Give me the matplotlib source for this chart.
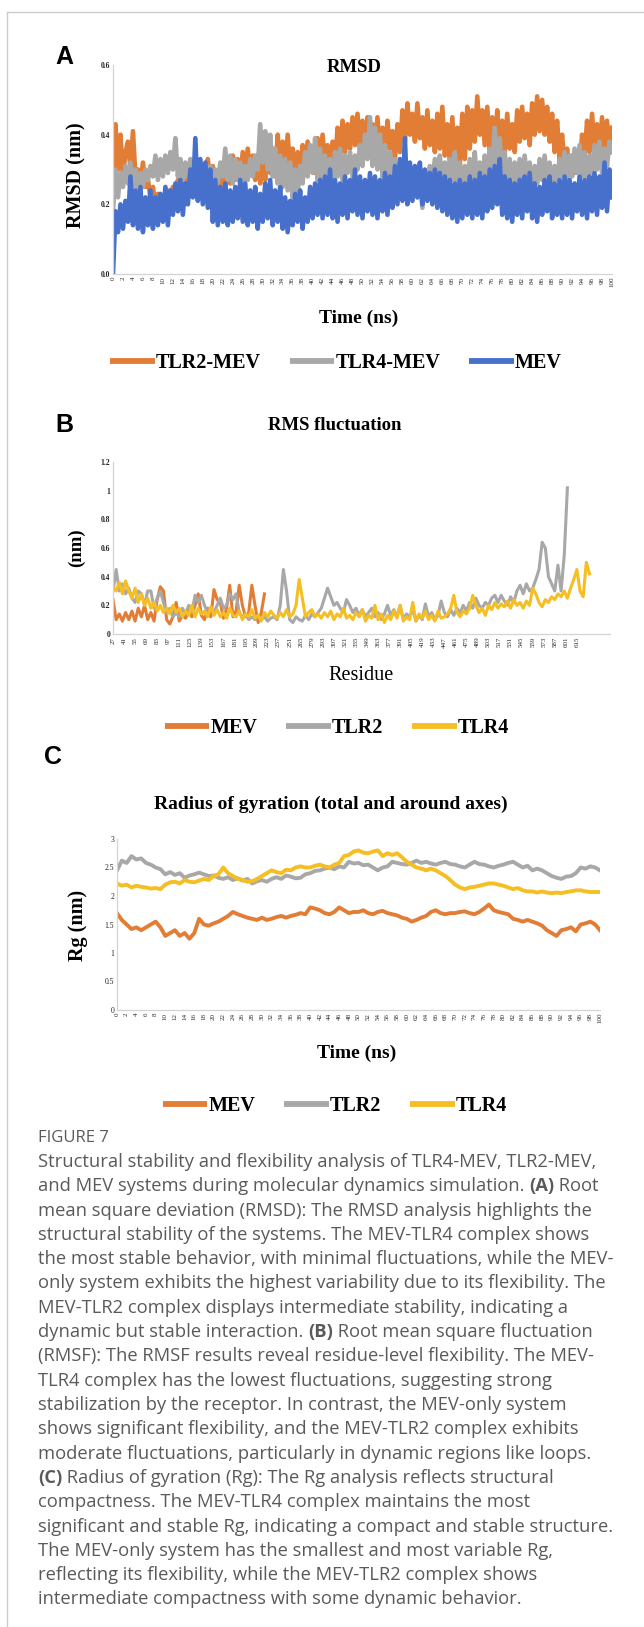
import numpy as np
import matplotlib
matplotlib.use("Agg")
import matplotlib.pyplot as plt
from matplotlib.lines import Line2D
from matplotlib.font_manager import FontProperties

# ---------------- DATA ----------------
# Panel A: RMSD (nm), sampled every 0.5 ns from 0 to 100 ns
rmsd_tlr2_mev = [
    0.24, 0.43, 0.30, 0.40, 0.28, 0.35, 0.38, 0.30, 0.41, 0.28, 0.30, 0.26, 0.32, 0.25, 0.27, 0.22,
    0.25, 0.20, 0.23, 0.19, 0.22, 0.20, 0.24, 0.21, 0.25, 0.22, 0.27, 0.23, 0.28, 0.24, 0.29, 0.25,
    0.30, 0.24, 0.28, 0.23, 0.30, 0.24, 0.33, 0.26, 0.31, 0.25, 0.29, 0.24, 0.30, 0.24, 0.32, 0.26,
    0.34, 0.27, 0.33, 0.27, 0.35, 0.28, 0.36, 0.29, 0.34, 0.27, 0.33, 0.26, 0.35, 0.27, 0.37, 0.29,
    0.36, 0.28, 0.40, 0.30, 0.38, 0.29, 0.40, 0.30, 0.36, 0.28, 0.35, 0.27, 0.37, 0.29, 0.38, 0.30,
    0.36, 0.29, 0.39, 0.31, 0.40, 0.32, 0.37, 0.30, 0.38, 0.31, 0.42, 0.33, 0.44, 0.35, 0.43, 0.36,
    0.45, 0.37, 0.46, 0.36, 0.44, 0.35, 0.45, 0.37, 0.43, 0.36, 0.45, 0.35, 0.42, 0.34, 0.44, 0.36,
    0.41, 0.33, 0.43, 0.35, 0.47, 0.38, 0.49, 0.40, 0.46, 0.38, 0.49, 0.39, 0.45, 0.36, 0.47, 0.37,
    0.44, 0.35, 0.46, 0.36, 0.48, 0.34, 0.43, 0.32, 0.45, 0.30, 0.42, 0.31, 0.46, 0.33, 0.48, 0.36,
    0.47, 0.38, 0.51, 0.40, 0.47, 0.37, 0.48, 0.36, 0.45, 0.35, 0.47, 0.37, 0.44, 0.35, 0.46, 0.36,
    0.43, 0.35, 0.47, 0.38, 0.48, 0.39, 0.46, 0.37, 0.49, 0.40, 0.51, 0.41, 0.50, 0.40, 0.48, 0.38,
    0.46, 0.35, 0.44, 0.33, 0.40, 0.31, 0.36, 0.30, 0.34, 0.29, 0.35, 0.30, 0.40, 0.33, 0.44, 0.35,
    0.46, 0.36, 0.43, 0.35, 0.45, 0.36, 0.44, 0.35, 0.42]
rmsd_tlr4_mev = [
    0.18, 0.30, 0.22, 0.29, 0.25, 0.31, 0.26, 0.32, 0.25, 0.30, 0.24, 0.29, 0.25, 0.30, 0.27, 0.31,
    0.28, 0.34, 0.27, 0.33, 0.28, 0.34, 0.29, 0.35, 0.30, 0.39, 0.28, 0.33, 0.27, 0.32, 0.28, 0.33,
    0.27, 0.31, 0.26, 0.32, 0.25, 0.30, 0.26, 0.31, 0.25, 0.30, 0.26, 0.32, 0.28, 0.36, 0.27, 0.34,
    0.26, 0.33, 0.27, 0.32, 0.25, 0.31, 0.27, 0.33, 0.28, 0.34, 0.30, 0.43, 0.32, 0.41, 0.30, 0.40,
    0.28, 0.36, 0.26, 0.34, 0.25, 0.33, 0.24, 0.32, 0.22, 0.30, 0.23, 0.31, 0.26, 0.35, 0.28, 0.37,
    0.29, 0.39, 0.27, 0.36, 0.26, 0.34, 0.25, 0.33, 0.26, 0.35, 0.28, 0.36, 0.27, 0.34, 0.29, 0.35,
    0.28, 0.34, 0.30, 0.37, 0.31, 0.40, 0.33, 0.45, 0.31, 0.42, 0.30, 0.40, 0.28, 0.37, 0.27, 0.35,
    0.26, 0.33, 0.25, 0.32, 0.26, 0.33, 0.24, 0.31, 0.23, 0.30, 0.22, 0.28, 0.19, 0.27, 0.24, 0.31,
    0.26, 0.33, 0.27, 0.34, 0.25, 0.32, 0.26, 0.33, 0.27, 0.35, 0.25, 0.32, 0.24, 0.31, 0.26, 0.33,
    0.27, 0.35, 0.25, 0.32, 0.26, 0.34, 0.28, 0.36, 0.30, 0.42, 0.29, 0.39, 0.27, 0.35, 0.26, 0.33,
    0.25, 0.32, 0.26, 0.33, 0.27, 0.34, 0.26, 0.32, 0.25, 0.31, 0.26, 0.33, 0.27, 0.34, 0.26, 0.32,
    0.25, 0.31, 0.27, 0.33, 0.28, 0.35, 0.27, 0.34, 0.28, 0.36, 0.29, 0.37, 0.28, 0.35, 0.27, 0.34,
    0.29, 0.37, 0.30, 0.38, 0.29, 0.36, 0.31, 0.38, 0.35]
rmsd_mev = [
    0.00, 0.18, 0.12, 0.20, 0.13, 0.21, 0.15, 0.28, 0.14, 0.24, 0.13, 0.25, 0.12, 0.22, 0.14, 0.24,
    0.13, 0.22, 0.14, 0.23, 0.15, 0.25, 0.14, 0.24, 0.17, 0.26, 0.18, 0.27, 0.17, 0.26, 0.20, 0.30,
    0.22, 0.39, 0.21, 0.33, 0.20, 0.32, 0.19, 0.30, 0.15, 0.27, 0.14, 0.25, 0.15, 0.26, 0.14, 0.24,
    0.15, 0.25, 0.16, 0.27, 0.15, 0.26, 0.14, 0.24, 0.15, 0.25, 0.13, 0.23, 0.15, 0.26, 0.16, 0.27,
    0.14, 0.24, 0.15, 0.25, 0.13, 0.22, 0.12, 0.21, 0.14, 0.23, 0.15, 0.24, 0.13, 0.22, 0.15, 0.25,
    0.16, 0.26, 0.17, 0.27, 0.16, 0.28, 0.17, 0.30, 0.16, 0.27, 0.15, 0.26, 0.17, 0.28, 0.16, 0.27,
    0.18, 0.30, 0.17, 0.28, 0.16, 0.27, 0.18, 0.29, 0.17, 0.28, 0.16, 0.27, 0.18, 0.29, 0.17, 0.28,
    0.19, 0.31, 0.20, 0.33, 0.21, 0.39, 0.20, 0.32, 0.21, 0.31, 0.22, 0.32, 0.20, 0.30, 0.21, 0.29,
    0.20, 0.30, 0.19, 0.29, 0.18, 0.28, 0.17, 0.27, 0.16, 0.26, 0.15, 0.27, 0.16, 0.26, 0.17, 0.28,
    0.16, 0.27, 0.17, 0.29, 0.16, 0.28, 0.18, 0.30, 0.19, 0.31, 0.20, 0.33, 0.17, 0.28, 0.16, 0.27,
    0.15, 0.26, 0.17, 0.27, 0.16, 0.28, 0.18, 0.29, 0.16, 0.26, 0.15, 0.25, 0.17, 0.27, 0.18, 0.28,
    0.16, 0.26, 0.17, 0.27, 0.16, 0.28, 0.17, 0.27, 0.16, 0.26, 0.18, 0.28, 0.17, 0.27, 0.16, 0.28,
    0.18, 0.29, 0.17, 0.28, 0.19, 0.32, 0.18, 0.30, 0.22]
rmsd_names = ["TLR2-MEV", "TLR4-MEV", "MEV"]

# Panel B: RMSF (nm), every 4th residue starting at residue 27
rmsf_start = 27
rmsf_step = 4
rmsf_mev = [
    0.24, 0.10, 0.14, 0.09, 0.15, 0.10, 0.16, 0.09, 0.18, 0.12, 0.20, 0.10, 0.15, 0.09, 0.24, 0.33,
    0.30, 0.10, 0.07, 0.12, 0.22, 0.09, 0.13, 0.11, 0.17, 0.12, 0.20, 0.28, 0.13, 0.10, 0.18, 0.12,
    0.31, 0.24, 0.22, 0.11, 0.18, 0.34, 0.12, 0.16, 0.34, 0.20, 0.12, 0.15, 0.34, 0.20, 0.08, 0.15,
    0.28]
rmsf_tlr2 = [
    0.30, 0.45, 0.30, 0.35, 0.28, 0.32, 0.25, 0.22, 0.30, 0.28, 0.20, 0.30, 0.30, 0.18, 0.25, 0.30,
    0.22, 0.15, 0.18, 0.12, 0.15, 0.12, 0.18, 0.14, 0.20, 0.15, 0.27, 0.22, 0.27, 0.20, 0.15, 0.18,
    0.15, 0.20, 0.25, 0.18, 0.20, 0.28, 0.24, 0.28, 0.15, 0.12, 0.14, 0.10, 0.12, 0.10, 0.13, 0.10,
    0.12, 0.09, 0.11, 0.12, 0.10, 0.20, 0.45, 0.30, 0.10, 0.08, 0.12, 0.10, 0.09, 0.13, 0.10, 0.14,
    0.12, 0.15, 0.18, 0.25, 0.32, 0.26, 0.20, 0.22, 0.18, 0.15, 0.24, 0.20, 0.15, 0.18, 0.13, 0.17,
    0.12, 0.15, 0.18, 0.12, 0.15, 0.10, 0.14, 0.20, 0.13, 0.17, 0.12, 0.20, 0.10, 0.14, 0.12, 0.17,
    0.09, 0.13, 0.10, 0.21, 0.12, 0.15, 0.10, 0.13, 0.23, 0.15, 0.12, 0.17, 0.13, 0.18, 0.15, 0.20,
    0.16, 0.22, 0.18, 0.25, 0.20, 0.18, 0.22, 0.20, 0.25, 0.27, 0.22, 0.27, 0.23, 0.20, 0.26, 0.22,
    0.30, 0.34, 0.28, 0.35, 0.30, 0.32, 0.38, 0.45, 0.64, 0.60, 0.40, 0.35, 0.30, 0.48, 0.30, 0.55,
    1.02]
rmsf_tlr4 = [
    0.33, 0.30, 0.36, 0.28, 0.37, 0.30, 0.25, 0.32, 0.22, 0.28, 0.20, 0.25, 0.18, 0.22, 0.16, 0.20,
    0.15, 0.18, 0.14, 0.20, 0.15, 0.18, 0.12, 0.16, 0.13, 0.20, 0.12, 0.18, 0.14, 0.16, 0.12, 0.19,
    0.13, 0.17, 0.12, 0.15, 0.11, 0.18, 0.13, 0.12, 0.16, 0.10, 0.14, 0.12, 0.17, 0.11, 0.13, 0.09,
    0.15, 0.12, 0.16, 0.13, 0.11, 0.15, 0.12, 0.17, 0.12, 0.14, 0.20, 0.38, 0.25, 0.12, 0.15, 0.17,
    0.12, 0.14, 0.11, 0.15, 0.12, 0.16, 0.10, 0.14, 0.12, 0.18, 0.11, 0.13, 0.10, 0.15, 0.12, 0.17,
    0.09, 0.13, 0.11, 0.20, 0.10, 0.14, 0.08, 0.13, 0.10, 0.16, 0.11, 0.20, 0.09, 0.12, 0.10, 0.22,
    0.09, 0.14, 0.11, 0.16, 0.10, 0.13, 0.09, 0.16, 0.11, 0.12, 0.14, 0.18, 0.27, 0.15, 0.12, 0.16,
    0.14, 0.18, 0.27, 0.20, 0.15, 0.18, 0.13, 0.20, 0.17, 0.22, 0.18, 0.21, 0.19, 0.23, 0.18, 0.24,
    0.20, 0.22, 0.18, 0.23, 0.20, 0.32, 0.28, 0.22, 0.19, 0.24, 0.22, 0.26, 0.24, 0.28, 0.26, 0.30,
    0.25, 0.32, 0.38, 0.45, 0.30, 0.26, 0.50, 0.42]
rmsf_names = ["MEV", "TLR2", "TLR4"]
rmsf_ticks = list(range(27, 616, 14))

# Panel C: Radius of gyration (nm), every 1 ns from 0 to 100 ns
rg_mev = [
    1.70, 1.58, 1.50, 1.42, 1.45, 1.40, 1.45, 1.50, 1.55, 1.45, 1.30, 1.35, 1.40, 1.30, 1.35, 1.25,
    1.35, 1.60, 1.50, 1.48, 1.52, 1.55, 1.60, 1.65, 1.72, 1.68, 1.65, 1.62, 1.60, 1.58, 1.62, 1.58,
    1.60, 1.63, 1.65, 1.62, 1.65, 1.67, 1.70, 1.68, 1.80, 1.78, 1.75, 1.70, 1.68, 1.72, 1.80, 1.75,
    1.70, 1.72, 1.72, 1.75, 1.70, 1.68, 1.72, 1.74, 1.70, 1.68, 1.66, 1.62, 1.60, 1.55, 1.58, 1.62,
    1.65, 1.72, 1.75, 1.70, 1.68, 1.70, 1.70, 1.72, 1.73, 1.70, 1.68, 1.72, 1.78, 1.85, 1.75, 1.72,
    1.70, 1.68, 1.60, 1.58, 1.55, 1.58, 1.55, 1.52, 1.48, 1.40, 1.35, 1.30, 1.40, 1.42, 1.45, 1.38,
    1.50, 1.52, 1.55, 1.50, 1.40]
rg_tlr2 = [
    2.45, 2.62, 2.58, 2.70, 2.64, 2.66, 2.58, 2.55, 2.50, 2.47, 2.38, 2.42, 2.37, 2.40, 2.32, 2.36,
    2.38, 2.41, 2.38, 2.35, 2.36, 2.32, 2.30, 2.33, 2.28, 2.31, 2.27, 2.30, 2.22, 2.26, 2.28, 2.25,
    2.30, 2.33, 2.30, 2.36, 2.34, 2.31, 2.32, 2.38, 2.40, 2.44, 2.45, 2.48, 2.50, 2.47, 2.52, 2.50,
    2.60, 2.57, 2.58, 2.54, 2.55, 2.50, 2.45, 2.50, 2.52, 2.60, 2.58, 2.56, 2.55, 2.58, 2.62, 2.58,
    2.60, 2.57, 2.55, 2.58, 2.60, 2.56, 2.55, 2.52, 2.50, 2.55, 2.60, 2.56, 2.55, 2.52, 2.50, 2.53,
    2.55, 2.58, 2.60, 2.55, 2.50, 2.53, 2.45, 2.48, 2.45, 2.40, 2.35, 2.32, 2.30, 2.34, 2.35, 2.40,
    2.50, 2.48, 2.52, 2.50, 2.45]
rg_tlr4 = [
    2.22, 2.18, 2.20, 2.15, 2.18, 2.16, 2.15, 2.13, 2.14, 2.12, 2.20, 2.24, 2.25, 2.22, 2.28, 2.25,
    2.24, 2.27, 2.30, 2.28, 2.35, 2.38, 2.50, 2.40, 2.35, 2.30, 2.28, 2.25, 2.26, 2.30, 2.35, 2.40,
    2.45, 2.42, 2.40, 2.46, 2.45, 2.50, 2.52, 2.50, 2.50, 2.53, 2.55, 2.52, 2.50, 2.55, 2.58, 2.70,
    2.72, 2.78, 2.80, 2.76, 2.75, 2.78, 2.80, 2.70, 2.75, 2.72, 2.75, 2.68, 2.60, 2.55, 2.50, 2.48,
    2.45, 2.48, 2.45, 2.40, 2.35, 2.28, 2.20, 2.15, 2.12, 2.15, 2.16, 2.18, 2.20, 2.22, 2.22, 2.20,
    2.18, 2.15, 2.12, 2.14, 2.10, 2.08, 2.08, 2.06, 2.08, 2.06, 2.05, 2.06, 2.05, 2.07, 2.08, 2.10,
    2.10, 2.08, 2.07, 2.07, 2.07]
rg_names = ["MEV", "TLR2", "TLR4"]
time_ticks = list(range(0, 101, 2))

caption_title = "FIGURE 7"
caption_lines = [
    [("Structural stability and flexibility analysis of TLR4-MEV, TLR2-MEV,", False)],
    [("and MEV systems during molecular dynamics simulation. ", False), ("(A)", True), (" Root", False)],
    [("mean square deviation (RMSD): The RMSD analysis highlights the", False)],
    [("structural stability of the systems. The MEV-TLR4 complex shows", False)],
    [("the most stable behavior, with minimal fluctuations, while the MEV-", False)],
    [("only system exhibits the highest variability due to its flexibility. The", False)],
    [("MEV-TLR2 complex displays intermediate stability, indicating a", False)],
    [("dynamic but stable interaction. ", False), ("(B)", True), (" Root mean square fluctuation", False)],
    [("(RMSF): The RMSF results reveal residue-level flexibility. The MEV-", False)],
    [("TLR4 complex has the lowest fluctuations, suggesting strong", False)],
    [("stabilization by the receptor. In contrast, the MEV-only system", False)],
    [("shows significant flexibility, and the MEV-TLR2 complex exhibits", False)],
    [("moderate fluctuations, particularly in dynamic regions like loops.", False)],
    [("(C)", True), (" Radius of gyration (Rg): The Rg analysis reflects structural", False)],
    [("compactness. The MEV-TLR4 complex maintains the most", False)],
    [("significant and stable Rg, indicating a compact and stable structure.", False)],
    [("The MEV-only system has the smallest and most variable Rg,", False)],
    [("reflecting its flexibility, while the MEV-TLR2 complex shows", False)],
    [("intermediate compactness with some dynamic behavior.", False)],
]

# ---------------- STYLE ----------------
ORANGE = "#E27D36"
GRAY = "#A8A8A8"
BLUE = "#4670CC"
YELLOW = "#F5BE22"
SPINE = "#D4D4D4"
SERIF = "Liberation Serif"
SANS = "Liberation Sans"

W, H = 644, 1627
fig = plt.figure(figsize=(W / 100, H / 100), dpi=100)


def fx(x):
    return x / W


def fy(y):
    return 1 - y / H


def make_ax(left, top, right, bottom):
    return fig.add_axes([fx(left), fy(bottom), (right - left) / W, (bottom - top) / H])


def style_ax(ax, ybold=True):
    for s in ["top", "right"]:
        ax.spines[s].set_visible(False)
    for s in ["left", "bottom"]:
        ax.spines[s].set_color(SPINE)
        ax.spines[s].set_linewidth(0.9)
    ax.tick_params(axis="both", length=0, pad=2)
    for lab in ax.get_yticklabels():
        lab.set_fontfamily(SERIF)
        lab.set_fontsize(5.5)
        lab.set_fontweight("bold" if ybold else "normal")
        lab.set_color("#222222")
    for lab in ax.get_xticklabels():
        lab.set_fontfamily(SERIF)
        lab.set_fontsize(5.0)
        lab.set_rotation(90)
        lab.set_color("#2a2a2a")


def ftext(x, y, s, **kw):
    return fig.text(fx(x), fy(y), s, ha="center", va="center", **kw)


def legend(x, y, colors, names):
    handles = [Line2D([], [], color=c, lw=4.2, solid_capstyle="butt") for c in colors]
    fig.legend(handles, names, loc="center", bbox_to_anchor=(fx(x), fy(y)), ncol=3,
               frameon=False, handlelength=2.2, handletextpad=0.05, columnspacing=1.45,
               prop=FontProperties(family=SERIF, weight="bold", size=14.5))


# ---------------- PANEL A ----------------
axA = make_ax(113, 65, 612, 274)
axA.plot(np.linspace(0, 100, len(rmsd_tlr2_mev)), rmsd_tlr2_mev, color=ORANGE, lw=3.3)
axA.plot(np.linspace(0, 100, len(rmsd_tlr4_mev)), rmsd_tlr4_mev, color=GRAY, lw=3.3)
axA.plot(np.linspace(0, 100, len(rmsd_mev)), rmsd_mev, color=BLUE, lw=3.3)
axA.set_xlim(0, 100)
axA.set_ylim(0, 0.6)
axA.set_yticks([0, 0.2, 0.4, 0.6])
axA.set_yticklabels(["0.0", "0.2", "0.4", "0.6"])
axA.set_xticks(time_ticks)
axA.set_xticklabels([str(v) for v in time_ticks])
style_ax(axA)

fig.text(fx(64), fy(57), "A", ha="center", va="center", family=SANS, weight="bold", size=18)
ftext(354, 68, "RMSD", family=SERIF, weight="bold", size=13.5)
ftext(76, 175, "RMSD (nm)", family=SERIF, weight="bold", size=14.5, rotation=90)
ftext(359, 318, "Time (ns)", family=SERIF, weight="bold", size=14)
legend(336, 363, [ORANGE, GRAY, BLUE], rmsd_names)

# ---------------- PANEL B ----------------
axB = make_ax(113, 462, 610, 634)
axB.plot(rmsf_start + rmsf_step * np.arange(len(rmsf_mev)), rmsf_mev, color=ORANGE, lw=2.2)
axB.plot(rmsf_start + rmsf_step * np.arange(len(rmsf_tlr2)), rmsf_tlr2, color=GRAY, lw=2.2)
axB.plot(rmsf_start + rmsf_step * np.arange(len(rmsf_tlr4)), rmsf_tlr4, color=YELLOW, lw=2.2)
axB.set_xlim(27, 657)
axB.set_ylim(0, 1.2)
axB.set_yticks([0, 0.2, 0.4, 0.6, 0.8, 1.0, 1.2])
axB.set_yticklabels(["0", "0.2", "0.4", "0.6", "0.8", "1", "1.2"])
axB.set_xticks(rmsf_ticks)
axB.set_xticklabels([str(v) for v in rmsf_ticks])
style_ax(axB)

fig.text(fx(64), fy(425), "B", ha="center", va="center", family=SANS, weight="bold", size=18)
ftext(335, 426, "RMS fluctuation", family=SERIF, weight="bold", size=13.5)
ftext(76, 548, "(nm)", family=SERIF, weight="bold", size=13.5, rotation=90)
ftext(361, 676, "Residue", family=SERIF, size=14.5)
legend(337, 728, [ORANGE, GRAY, YELLOW], rmsf_names)

# ---------------- PANEL C ----------------
axC = make_ax(117, 839, 600, 1010)
axC.plot(np.linspace(0, 100, len(rg_mev)), rg_mev, color=ORANGE, lw=2.8)
axC.plot(np.linspace(0, 100, len(rg_tlr2)), rg_tlr2, color=GRAY, lw=2.8)
axC.plot(np.linspace(0, 100, len(rg_tlr4)), rg_tlr4, color=YELLOW, lw=2.8)
axC.set_xlim(0, 100)
axC.set_ylim(0, 3)
axC.set_yticks([0, 0.5, 1, 1.5, 2, 2.5, 3])
axC.set_yticklabels(["0", "0.5", "1", "1.5", "2", "2.5", "3"])
axC.set_xticks(time_ticks)
axC.set_xticklabels([str(v) for v in time_ticks])
style_ax(axC, ybold=False)

fig.text(fx(53), fy(757), "C", ha="center", va="center", family=SANS, weight="bold", size=18)
ftext(331, 804, "Radius of gyration (total and around axes)", family=SERIF, weight="bold", size=14)
ftext(78, 925, "Rg (nm)", family=SERIF, weight="bold", size=14.5, rotation=90)
ftext(357, 1053, "Time (ns)", family=SERIF, weight="bold", size=14)
legend(335, 1106, [ORANGE, GRAY, YELLOW], rg_names)

# ---------------- FRAME ----------------
fig.add_artist(Line2D([fx(7), 1], [fy(12), fy(12)], transform=fig.transFigure, color="#CCCCCC", lw=1.0))
fig.add_artist(Line2D([fx(7), fx(7)], [fy(12), 0], transform=fig.transFigure, color="#CCCCCC", lw=1.0))

# ---------------- CAPTION ----------------
CAP_FONT = "Open Sans"
CAP_COLOR = "#5A5A5A"
renderer = fig.canvas.get_renderer()
# size the caption font so that the first line spans the measured width (~558 px)
probe = fig.text(0, 0, caption_lines[0][0][0], family=CAP_FONT, size=12)
probe_w = probe.get_window_extent(renderer).width
probe.remove()
cap_size = 12 * 558 / probe_w

fig.text(fx(38), fy(1138), caption_title, ha="left", va="center", family=CAP_FONT,
         size=cap_size * 0.9, color=CAP_COLOR)
y0 = 1162
dy = 24.3
for i, segs in enumerate(caption_lines):
    x = fx(38)
    y = fy(y0 + i * dy)
    for seg, bold in segs:
        t = fig.text(x, y, seg, ha="left", va="center", family=CAP_FONT, size=cap_size,
                     weight="bold" if bold else "normal", color=CAP_COLOR)
        x += t.get_window_extent(renderer).width / fig.bbox.width

fig.savefig("out.png", dpi=100, facecolor="white")
